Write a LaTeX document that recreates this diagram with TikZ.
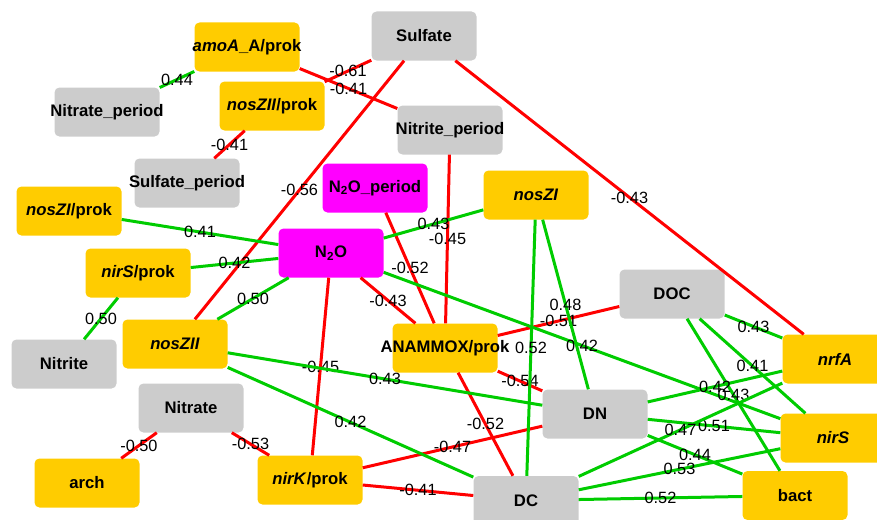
\documentclass[tikz,border=0pt]{standalone}
\usepackage{fontspec}
\setmainfont{Liberation Sans}
\definecolor{cyel}{RGB}{255,204,0}
\definecolor{cgry}{RGB}{204,204,204}
\definecolor{cmag}{RGB}{255,0,255}
\definecolor{cgrn}{RGB}{0,204,0}
\definecolor{cred}{RGB}{255,0,0}
\newcommand{\nlab}[1]{\makebox[0pt][c]{#1}}
\tikzset{
  box/.style={rounded corners=5pt, minimum width=105pt, minimum height=49pt, inner sep=0pt,
              font=\fontsize{16.7}{20}\selectfont\bfseries},
  yel/.style={box, fill=cyel},
  gry/.style={box, fill=cgry},
  mag/.style={box, fill=cmag},
  posedge/.style={draw=cgrn, line width=3pt},
  negedge/.style={draw=cred, line width=3pt},
  lbl/.style={font=\fontsize{16.3}{18}\selectfont, inner sep=0pt, midway, text=black}
}
\begin{document}
\begin{tikzpicture}[x=1pt, y=-1pt]
\useasboundingbox (0,0) rectangle (877,519);
\clip (0,0) rectangle (877,519);
% nodes
\node[yel] (amoA) at (247,47) {\nlab{\textit{amoA}\_A/prok}};
\node[gry] (Sulfate) at (424,36) {\nlab{Sulfate}};
\node[gry] (NitrateP) at (107,112) {\nlab{Nitrate\_period}};
\node[yel] (nosZIIp) at (272,106) {\nlab{\textit{nosZII}/prok}};
\node[gry] (NitriteP) at (450,130) {\nlab{Nitrite\_period}};
\node[gry] (SulfateP) at (187,183) {\nlab{Sulfate\_period}};
\node[mag] (N2OP) at (375,188) {\nlab{N\textsubscript{2}O\_period}};
\node[yel] (nosZI) at (536,195) {\nlab{\textit{nosZI}}};
\node[yel] (nosZIp) at (69,211) {\nlab{\textit{nosZI}/prok}};
\node[mag] (N2O) at (331,253) {\nlab{N\textsubscript{2}O}};
\node[yel] (nirSp) at (138,273) {\nlab{\textit{nirS}/prok}};
\node[gry] (DOC) at (672,294) {\nlab{DOC}};
\node[yel] (nosZII) at (175,344) {\nlab{\textit{nosZII}}};
\node[gry] (Nitrite) at (64,364) {\nlab{Nitrite}};
\node[yel] (ANAMMOX) at (445,348) {\nlab{ANAMMOX/prok}};
\node[yel] (nrfA) at (835,359) {\nlab{\textit{nrfA}}};
\node[gry] (Nitrate) at (191,408) {\nlab{Nitrate}};
\node[gry] (DN) at (595,414) {\nlab{DN}};
\node[yel] (nirS) at (833,438) {\nlab{\textit{nirS}}};
\node[yel] (arch) at (87,483) {\nlab{arch}};
\node[yel] (nirKp) at (310,480) {\nlab{\textit{nirK}/prok}};
\node[yel] (bact) at (795,495.5) {\nlab{bact}};
\node[gry] (DC) at (526,500.5) {\nlab{DC}};
% negative edges
\draw[negedge] (Sulfate) -- node[lbl]{-0.61} (nosZIIp);
\draw[negedge] (amoA) -- node[lbl]{-0.41} (NitriteP);
\draw[negedge] (Sulfate) -- node[lbl]{-0.56} (nosZII);
\draw[negedge] (Sulfate) -- node[lbl]{-0.43} (nrfA);
\draw[negedge] (nosZIIp) -- node[lbl]{-0.41} (SulfateP);
\draw[negedge] (NitriteP) -- node[lbl]{-0.45} (ANAMMOX);
\draw[negedge] (N2OP) -- node[lbl]{-0.52} (ANAMMOX);
\draw[negedge] (N2O) -- node[lbl]{-0.43} (ANAMMOX);
\draw[negedge] (N2O) -- node[lbl]{-0.45} (nirKp);
\draw[negedge] (ANAMMOX) -- node[lbl]{-0.51} (DOC);
\draw[negedge] (ANAMMOX) -- node[lbl]{-0.54} (DN);
\draw[negedge] (ANAMMOX) -- node[lbl]{-0.52} (DC);
\draw[negedge] (nirKp) -- node[lbl]{-0.47} (DN);
\draw[negedge] (nirKp) -- node[lbl]{-0.41} (DC);
\draw[negedge] (Nitrate) -- node[lbl]{-0.50} (arch);
\draw[negedge] (Nitrate) -- node[lbl]{-0.53} (nirKp);
% positive edges
\draw[posedge] (amoA) -- node[lbl]{0.44} (NitrateP);
\draw[posedge] (nosZIp) -- node[lbl]{0.41} (N2O);
\draw[posedge] (nirSp) -- node[lbl]{0.42} (N2O);
\draw[posedge] (nosZII) -- node[lbl]{0.50} (N2O);
\draw[posedge] (nirSp) -- node[lbl]{0.50} (Nitrite);
\draw[posedge] (N2O) -- node[lbl]{0.43} (nosZI);
\draw[posedge] (N2O) -- node[lbl]{0.42} (nirS);
\draw[posedge] (nosZI) -- node[lbl]{0.52} (DC);
\draw[posedge] (nosZI) -- node[lbl]{0.48} (DN);
\draw[posedge] (nosZII) -- node[lbl]{0.43} (DN);
\draw[posedge] (nosZII) -- node[lbl]{0.42} (DC);
\draw[posedge] (DOC) -- node[lbl]{0.43} (nrfA);
\draw[posedge] (DOC) -- node[lbl]{0.41} (nirS);
\draw[posedge] (DOC) -- node[lbl]{0.43} (bact);
\draw[posedge] (DN) -- node[lbl]{0.42} (nrfA);
\draw[posedge] (DN) -- node[lbl]{0.51} (nirS);
\draw[posedge] (DN) -- node[lbl]{0.44} (bact);
\draw[posedge] (DC) -- node[lbl]{0.47} (nrfA);
\draw[posedge] (DC) -- node[lbl]{0.53} (nirS);
\draw[posedge] (DC) -- node[lbl]{0.52} (bact);
\end{tikzpicture}
\end{document}
